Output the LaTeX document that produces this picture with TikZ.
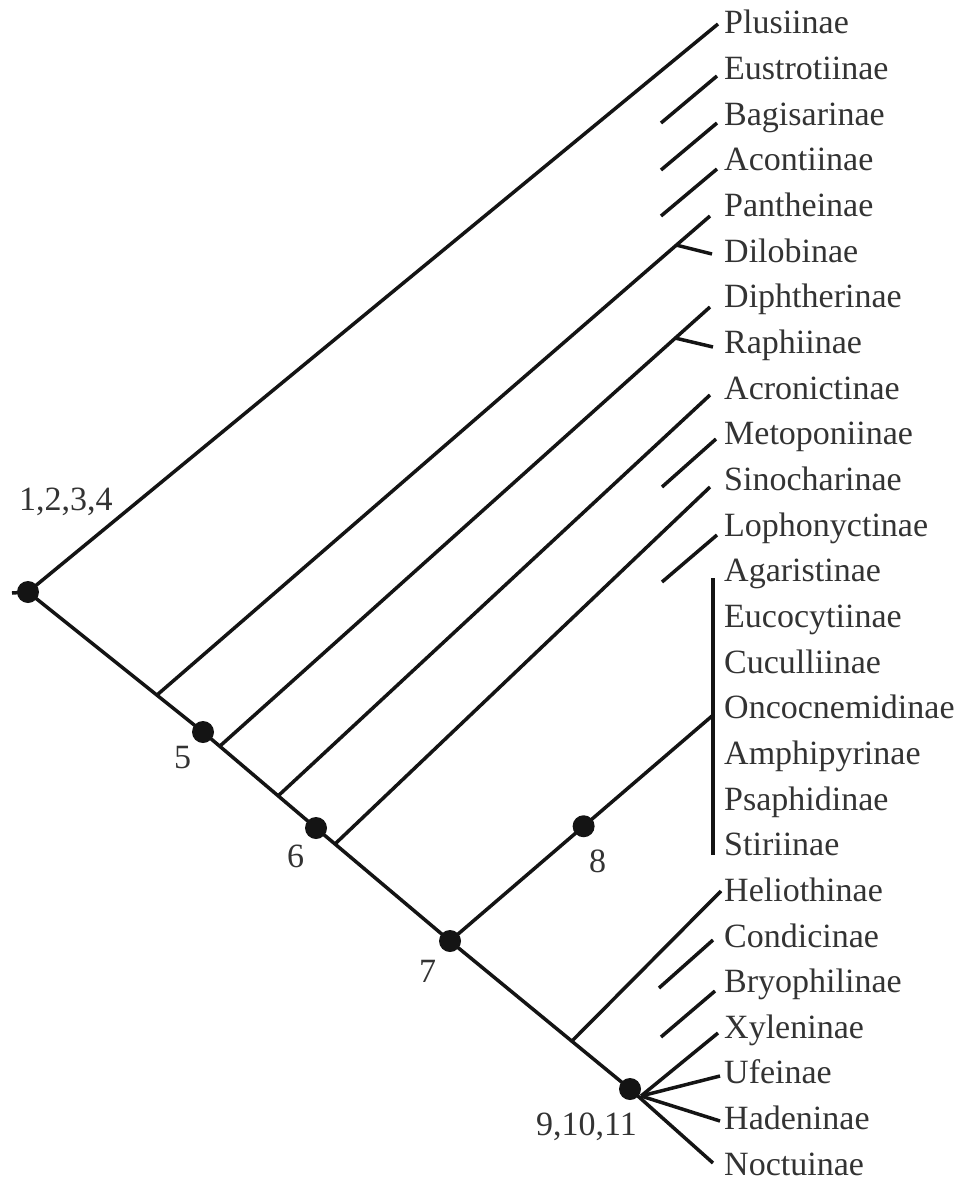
\documentclass[tikz,border=0pt]{standalone}
\usepackage{fontspec}
\setmainfont{Liberation Serif}
\usetikzlibrary{calc}
\begin{document}
\begin{tikzpicture}[x=1pt,y=-1pt,
  branch/.style={line width=3.5pt, line join=round, draw=black!92},
  dotnode/.style={circle, fill=black!92, inner sep=0pt, minimum size=22pt},
  taxon/.style={anchor=base west, inner sep=0pt, text=black!80,
                font=\fontsize{34}{40}\selectfont},
  numlabel/.style={anchor=base west, inner sep=0pt, text=black!80,
                font=\fontsize{34}{40}\selectfont}]
\useasboundingbox (0,0) rectangle (956,1182);

% terminal taxa, one row each
\foreach \name [count=\k from 0] in {Plusiinae,Eustrotiinae,Bagisarinae,
  Acontiinae,Pantheinae,Dilobinae,Diphtherinae,Raphiinae,Acronictinae,
  Metoponiinae,Sinocharinae,Lophonyctinae,Agaristinae,Eucocytiinae,
  Cuculliinae,Oncocnemidinae,Amphipyrinae,Psaphidinae,Stiriinae,
  Heliothinae,Condicinae,Bryophilinae,Xyleninae,Ufeinae,Hadeninae,Noctuinae}
  \node[taxon] (\name) at (724,{34+45.65*\k}) {\name};

% points on the backbone
\coordinate (stub) at (12,593);
\coordinate (n1) at (28,592);
\coordinate (n5) at (203,732);
\coordinate (n6) at (316,828);
\coordinate (n7) at (450,941);
\coordinate (n9) at (630,1089);
\coordinate (b1) at (157,695);
\coordinate (b2) at (220,746);
\coordinate (b3) at (278,796);
\coordinate (b4) at (335,844);
\coordinate (b5) at (572,1041);
\coordinate (fan) at (641,1096);

% branch tips
\coordinate (ePlus) at (718,24);
\coordinate (ePanth) at (710,216);
\coordinate (sDilo) at (676,245);
\coordinate (eDilo) at (712,254);
\coordinate (eDiph) at (710,307);
\coordinate (sRaph) at (675,338);
\coordinate (eRaph) at (713,347);
\coordinate (eAcro) at (710,395);
\coordinate (eSino) at (710,487);
\coordinate (j8) at (712,716);
\coordinate (barTop) at (713,578);
\coordinate (barBot) at (713,855);
\coordinate (eHelio) at (721,891);
\coordinate (eXyl) at (718,1033);
\coordinate (eUfe) at (720,1076);
\coordinate (eHad) at (720,1121);
\coordinate (eNoct) at (713,1163);
\coordinate (n8) at ($(n7)!0.51!(j8)$);

% unattached short strokes
\coordinate (aEus) at (661,123);  \coordinate (zEus) at (717,76);
\coordinate (aBag) at (661,170);  \coordinate (zBag) at (717,123);
\coordinate (aAco) at (661,216);  \coordinate (zAco) at (717,169);
\coordinate (aMet) at (662,487);  \coordinate (zMet) at (716,439);
\coordinate (aLop) at (662,582);  \coordinate (zLop) at (717,535);
\coordinate (aCon) at (659,988);  \coordinate (zCon) at (713,940);
\coordinate (aBry) at (661,1037); \coordinate (zBry) at (715,991);

% backbone
\draw[branch] (stub) -- (n1) -- (n5) -- (n6) -- (n7) -- (n9) -- (eNoct);

% side branches
\draw[branch] (n1) -- (ePlus);
\draw[branch] (b1) -- (ePanth);
\draw[branch] (sDilo) -- (eDilo);
\draw[branch] (b2) -- (eDiph);
\draw[branch] (sRaph) -- (eRaph);
\draw[branch] (b3) -- (eAcro);
\draw[branch] (b4) -- (eSino);
\draw[branch] (n7) -- (j8);
\draw[branch] (barTop) -- (barBot);
\draw[branch] (b5) -- (eHelio);
\draw[branch] (fan) -- (eXyl);
\draw[branch] (fan) -- (eUfe);
\draw[branch] (fan) -- (eHad);

\foreach \s in {Eus,Bag,Aco,Met,Lop,Con,Bry}
  \draw[branch] (a\s) -- (z\s);

% numbered nodes
\node[dotnode] (d1) at (n1) {};
\node[dotnode] (d5) at (n5) {};
\node[dotnode] (d6) at (n6) {};
\node[dotnode] (d7) at (n7) {};
\node[dotnode] (d8) at (n8) {};
\node[dotnode] (d9) at (n9) {};

\node[numlabel] (l1) at (19,510) {1,2,3,4};
\node[numlabel] (l5) at (174,768) {5};
\node[numlabel] (l6) at (287,867) {6};
\node[numlabel] (l7) at (419,982) {7};
\node[numlabel] (l8) at (589,872) {8};
\node[numlabel] (l9) at (536,1135) {9,10,11};
\end{tikzpicture}
\end{document}
